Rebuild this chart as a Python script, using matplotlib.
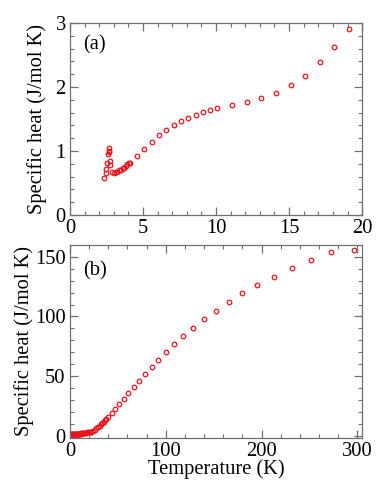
import numpy as np
import matplotlib.pyplot as plt
from matplotlib.ticker import MultipleLocator

# (a) low temperature data
temp_a = [2.33, 2.45, 2.49, 2.52, 2.63, 2.65, 2.68, 2.70, 2.72, 2.75, 2.86, 3.0,
          3.13, 3.25, 3.36, 3.48, 3.6, 3.7, 3.82, 3.94, 4.05, 4.14, 4.62, 5.1,
          5.6, 6.1, 6.6, 7.1, 7.6, 8.1, 8.6, 9.1, 9.6, 10.1, 11.1, 12.1, 13.1,
          14.1, 15.1, 16.1, 17.1, 18.1, 19.1]
heat_a = [0.58, 0.65, 0.72, 0.82, 0.95, 0.99, 1.04, 1.00, 0.85, 0.78, 0.68, 0.66,
          0.67, 0.68, 0.70, 0.71, 0.73, 0.74, 0.76, 0.79, 0.81, 0.82, 0.93, 1.03,
          1.14, 1.25, 1.33, 1.40, 1.47, 1.52, 1.57, 1.61, 1.64, 1.67, 1.72, 1.77,
          1.83, 1.91, 2.03, 2.18, 2.39, 2.62, 2.90]

# (b) full range data
temp_b_high = [20.5, 21.5, 22.5, 24.1, 25.8, 27.6, 29.3, 31.1, 32.5, 33.9, 35.3,
               36.7, 38.0, 40.2, 43.7, 47.5, 51.7, 56.2, 61.1, 66.4, 72.3, 78.2,
               85.2, 92.2, 100.2, 109.0, 118.4, 128.9, 140.0, 152.3, 165.6, 179.9,
               195.6, 213.0, 231.6, 251.5, 273.0, 297.0]
heat_b_high = [2.6, 3.0, 3.4, 4.2, 5.0, 6.1, 7.2, 8.4, 9.5, 10.6, 11.7,
               12.8, 14.2, 15.6, 19.0, 22.6, 26.5, 30.7, 35.4, 40.4, 45.7, 51.3,
               57.4, 63.6, 70.3, 76.9, 83.4, 90.6, 97.6, 104.5, 112.1, 119.9,
               126.8, 133.5, 140.5, 147.2, 154.4, 155.9]
temp_b = temp_a + temp_b_high
heat_b = heat_a + heat_b_high

plt.rcParams['font.family'] = ['Liberation Serif', 'DejaVu Serif']
plt.rcParams['font.size'] = 14.8

fig = plt.figure(figsize=(3.82, 4.96), dpi=100)
ax1 = fig.add_axes([0.183, 0.5665, 0.765, 0.387])
ax2 = fig.add_axes([0.183, 0.117, 0.765, 0.389])

mk = dict(linestyle='none', marker='o', ms=3.3, mfc='none', mec='#e8141c', mew=0.9)

ax1.plot(temp_a, heat_a, **mk)
ax1.set_xlim(0, 20)
ax1.set_ylim(0, 3)
ax1.xaxis.set_major_locator(MultipleLocator(5))
ax1.xaxis.set_minor_locator(MultipleLocator(1))
ax1.yaxis.set_major_locator(MultipleLocator(1))
ax1.yaxis.set_minor_locator(MultipleLocator(0.2))
ax1.set_ylabel('Specific heat (J/mol K)', labelpad=6)
ax1.text(0.045, 0.86, '(a)', transform=ax1.transAxes)

ax2.plot(temp_b, heat_b, **mk)
ax2.set_xlim(0, 305)
ax2.set_ylim(-2, 160)
ax2.xaxis.set_major_locator(MultipleLocator(100))
ax2.xaxis.set_minor_locator(MultipleLocator(20))
ax2.yaxis.set_major_locator(MultipleLocator(50))
ax2.yaxis.set_minor_locator(MultipleLocator(10))
ax2.set_ylabel('Specific heat (J/mol K)', labelpad=1)
ax2.set_xlabel('Temperature (K)', labelpad=-1)
ax2.text(0.045, 0.84, '(b)', transform=ax2.transAxes)

for ax in (ax1, ax2):
    for s in ax.spines.values():
        s.set_color('#707070')
        s.set_linewidth(0.9)
    ax.tick_params(which='both', direction='in', top=True, right=True, color='#707070')
    ax.tick_params(which='major', length=6, width=0.9, pad=3)
    ax.tick_params(which='minor', length=3, width=0.8)

fig.savefig('out.png', dpi=100)
